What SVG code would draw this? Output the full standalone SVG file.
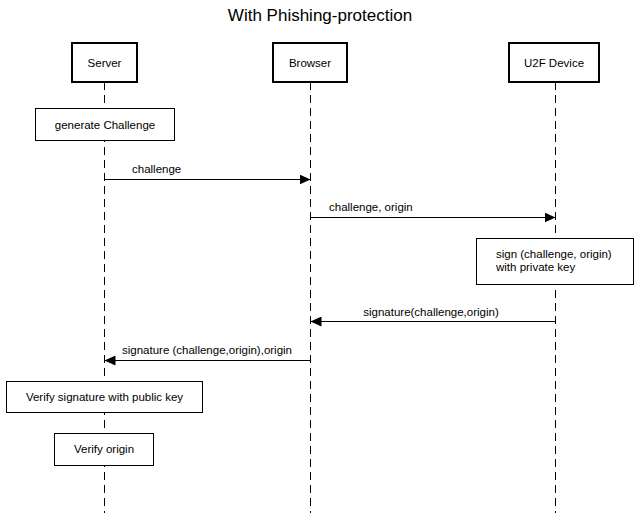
<svg xmlns="http://www.w3.org/2000/svg" width="640" height="513" viewBox="0 0 640 513">
<style>
text{font-family:"Liberation Sans",Arial,Helvetica,sans-serif;font-size:11.5px;fill:#000}
.title{font-size:17px}
.c{text-anchor:middle}
.actor{fill:#fff;stroke:#000;stroke-width:2}
.note{fill:#fff;stroke:#000;stroke-width:1}
.life{stroke:#000;stroke-width:1;stroke-dasharray:8,5;fill:none}
.msg{stroke:#000;stroke-width:1;fill:none}
</style>
<defs>
<marker id="ah" viewBox="0 0 11 10" refX="11" refY="5" markerWidth="11" markerHeight="10" markerUnits="userSpaceOnUse" orient="auto">
<path d="M0,0L11,5L0,10z" fill="#000"/>
</marker>
</defs>
<text class="title c" x="320" y="21">With Phishing-protection</text>
<g id="lifelines">
<line class="life" x1="104.5" y1="82" x2="104.5" y2="513"/>
<line class="life" x1="310.5" y1="82" x2="310.5" y2="513"/>
<line class="life" x1="555.5" y1="82" x2="555.5" y2="513"/>
</g>
<g id="server"><rect class="actor" x="72" y="43" width="65" height="39"/><text class="c" x="104.5" y="67">Server</text></g>
<g id="browser"><rect class="actor" x="273" y="43" width="74" height="39"/><text class="c" x="310" y="67">Browser</text></g>
<g id="u2f"><rect class="actor" x="509" y="43" width="90" height="39"/><text class="c" x="554" y="67">U2F Device</text></g>
<g id="gen"><rect class="note" x="35.5" y="108.5" width="139" height="32"/><text class="c" x="105" y="128.5">generate Challenge</text></g>
<g id="sign"><rect class="note" x="476.5" y="238.5" width="157" height="46"/><text x="496" y="258">sign (challenge, origin)</text><text x="496" y="271">with private key</text></g>
<g id="verifysig"><rect class="note" x="6.5" y="381.5" width="196" height="31"/><text class="c" x="104.5" y="401">Verify signature with public key</text></g>
<g id="verifyorigin"><rect class="note" x="54.5" y="433.5" width="99" height="32"/><text class="c" x="104" y="453">Verify origin</text></g>
<g id="connectors">
<line class="msg" x1="104.5" y1="179.5" x2="310.5" y2="179.5" marker-end="url(#ah)"/>
<text x="132" y="173">challenge</text>
<line class="msg" x1="310.5" y1="217.5" x2="555.5" y2="217.5" marker-end="url(#ah)"/>
<text x="329" y="211">challenge, origin</text>
<line class="msg" x1="555.5" y1="321.5" x2="310.5" y2="321.5" marker-end="url(#ah)"/>
<text class="c" x="431" y="316">signature(challenge,origin)</text>
<line class="msg" x1="310.5" y1="360.5" x2="104.5" y2="360.5" marker-end="url(#ah)"/>
<text class="c" x="207" y="354">signature (challenge,origin),origin</text>
</g>
</svg>
